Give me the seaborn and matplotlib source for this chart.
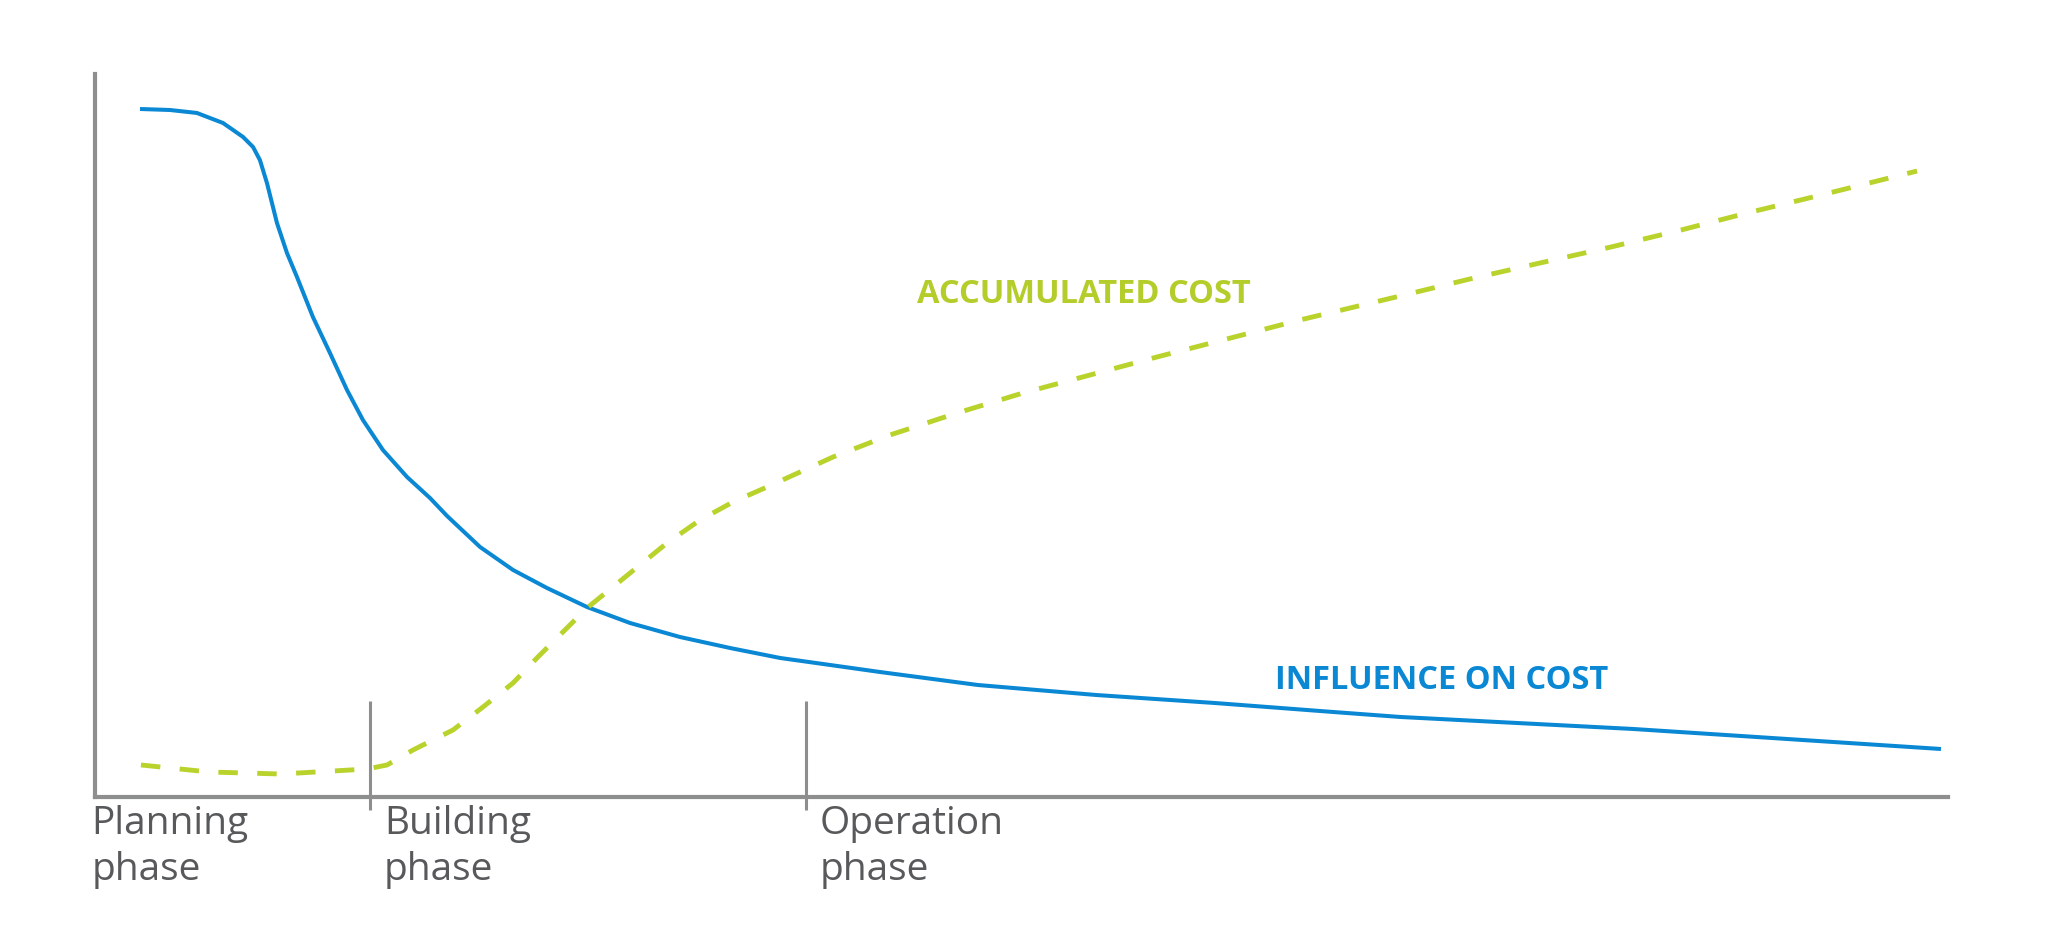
import matplotlib
matplotlib.use("Agg")
import matplotlib.pyplot as plt
import pandas as pd
import seaborn as sns

# time axis runs 0..100 across the chart, cost axis 0..100 up the chart
influence_x = [2.43, 4.05, 5.50, 6.91, 7.99, 8.53, 8.90, 9.28, 9.82, 10.36,
               10.90, 11.76, 12.68, 13.60, 14.46, 15.54, 16.84, 18.08, 19.00,
               20.78, 22.56, 24.39, 26.55, 28.87, 31.57, 34.27, 36.97, 39.67,
               42.36, 47.65, 54.02, 60.44, 66.81, 70.43, 83.00, 99.62]
influence_y = [95.16, 95.02, 94.61, 93.22, 91.29, 89.90, 88.10, 84.92, 79.39, 75.24,
               71.92, 66.39, 61.41, 56.29, 52.14, 47.99, 44.26, 41.35, 38.87,
               34.58, 31.40, 28.91, 26.28, 24.07, 22.13, 20.61, 19.23, 18.26,
               17.29, 15.49, 14.11, 13.00, 11.76, 11.07, 9.41, 6.64]

accum_x = [2.48, 6.15, 10.04, 14.68, 15.76, 17.16, 19.32, 20.94, 22.56, 23.85,
           25.09, 26.55, 27.95, 29.41, 30.87, 32.65, 34.43, 36.27, 38.05, 39.83,
           42.90, 46.52, 50.08, 53.70, 57.31, 60.87, 65.03, 70.43, 74.20, 77.98,
           81.81, 85.59, 89.37, 93.15, 98.33]
accum_y = [4.43, 3.46, 3.18, 3.87, 4.43, 6.50, 9.27, 12.45, 15.77, 19.23,
           22.41, 26.14, 29.05, 32.09, 35.13, 38.31, 40.80, 42.88, 44.95, 47.03,
           50.07, 53.11, 55.88, 58.37, 60.86, 63.21, 65.98, 69.29, 71.65, 73.86,
           76.07, 78.42, 80.91, 83.26, 86.58]

phase_bounds = [14.84, 38.37]
phase_labels = ["Planning\nphase", "Building\nphase", "Operation\nphase"]

BLUE = "#0a88d4"
GREEN = "#bad22c"
GREY = "#8d8f8f"
TEXT = "#58595b"

sns.set_theme(style="white")
plt.rcParams["font.family"] = ["Open Sans", "DejaVu Sans"]

influence = pd.DataFrame({"x": influence_x, "y": influence_y})
accum = pd.DataFrame({"x": accum_x, "y": accum_y})

fig = plt.figure(figsize=(20.48, 9.44), dpi=100)
ax = fig.add_axes([95 / 2048, 147 / 944, 1853 / 2048, 723 / 944])

sns.lineplot(data=influence, x="x", y="y", ax=ax, color=BLUE, linewidth=2.9,
             sort=False, estimator=None, solid_capstyle="butt",
             solid_joinstyle="round")
sns.lineplot(data=accum, x="x", y="y", ax=ax, color=GREEN, linewidth=3.5,
             sort=False, estimator=None, linestyle=(0, (4.0, 4.0)))

ax.set_xlim(0, 100)
ax.set_ylim(0, 100)
ax.set_xticks([])
ax.set_yticks([])
ax.set_xlabel("")
ax.set_ylabel("")
for side in ["top", "right"]:
    ax.spines[side].set_visible(False)
for side in ["left", "bottom"]:
    ax.spines[side].set_color(GREY)
    ax.spines[side].set_linewidth(3)

# phase separators
ax.vlines(phase_bounds, -1.8, 13.3, color=GREY, linewidth=2.2, clip_on=False)

starts = [0] + phase_bounds
for i, (x0, lab) in enumerate(zip(starts, phase_labels)):
    off = -0.2 if i == 0 else 0.75
    ax.text(x0 + off, -1.1, lab, ha="left", va="top", fontsize=28,
            color=TEXT, linespacing=1.28, clip_on=False)

ax.text(53.37, 69.57, "ACCUMULATED COST", ha="center", va="center",
        fontsize=23.5, fontweight="bold", color="#b5cd2a")
ax.text(72.69, 16.18, "INFLUENCE ON COST", ha="center", va="center",
        fontsize=23.5, fontweight="bold", color=BLUE)

fig.savefig("out.png", dpi=100, facecolor="white")
